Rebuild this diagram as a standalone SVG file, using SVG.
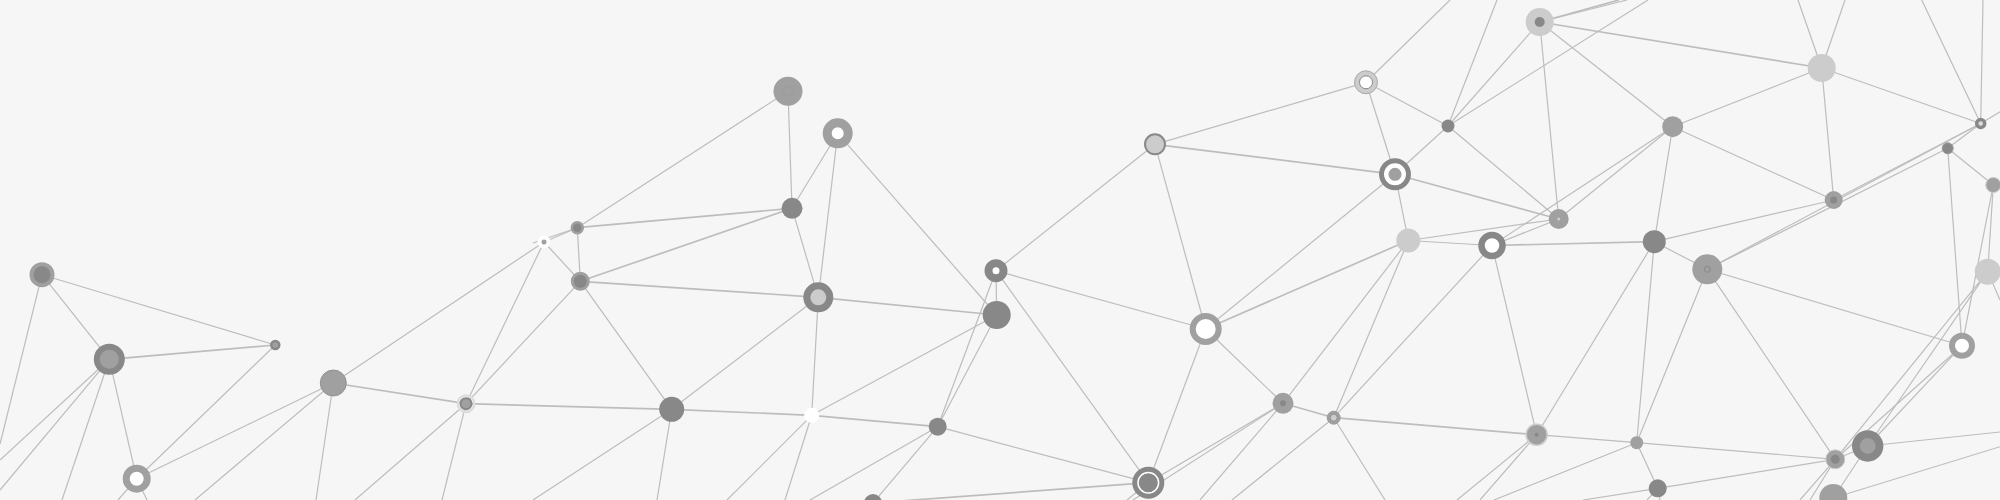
<svg xmlns="http://www.w3.org/2000/svg" width="2000" height="500" viewBox="0 0 2000 500">
<style>
.e line{stroke:#bdbdbd;stroke-width:1.2;fill:none}
.e line.t{stroke-width:1.7}
.f88{fill:#888}
.fa0{fill:#a0a0a0}
.fcc{fill:#ccc}
.fw{fill:#fff}
</style>
<rect width="2000" height="500" fill="#f6f6f6"/>
<g id="connectors" class="e">
<line x1="42" y1="274.7" x2="109.3" y2="359.3"/>
<line x1="42" y1="274.7" x2="275.3" y2="345"/>
<line x1="42" y1="274.7" x2="0" y2="444"/>
<line class="t" x1="109.3" y1="359.3" x2="275.3" y2="345"/>
<line x1="109.3" y1="359.3" x2="136.7" y2="478.7"/>
<line x1="109.3" y1="359.3" x2="0" y2="460"/>
<line x1="109.3" y1="359.3" x2="0" y2="490"/>
<line x1="109.3" y1="359.3" x2="62" y2="500"/>
<line x1="275.3" y1="345" x2="136.7" y2="478.7"/>
<line x1="333.3" y1="383" x2="136.7" y2="478.7"/>
<line x1="333.3" y1="383" x2="544" y2="242"/>
<line class="t" x1="333.3" y1="383" x2="466" y2="403.7"/>
<line x1="333.3" y1="383" x2="195" y2="500"/>
<line x1="333.3" y1="383" x2="316" y2="500"/>
<line x1="466" y1="403.7" x2="544" y2="242"/>
<line x1="466" y1="403.7" x2="580.3" y2="281.3"/>
<line class="t" x1="466" y1="403.7" x2="671.7" y2="409.3"/>
<line x1="466" y1="403.7" x2="355" y2="500"/>
<line x1="466" y1="403.7" x2="442" y2="500"/>
<line x1="136.7" y1="478.7" x2="118" y2="500"/>
<line x1="136.7" y1="478.7" x2="147" y2="500"/>
<line x1="788" y1="91.3" x2="577.3" y2="227.7"/>
<line x1="788" y1="91.3" x2="792" y2="208.3"/>
<line x1="837.7" y1="133.3" x2="792" y2="208.3"/>
<line x1="837.7" y1="133.3" x2="818.3" y2="297.3"/>
<line x1="837.7" y1="133.3" x2="996.7" y2="315"/>
<line class="t" x1="792" y1="208.3" x2="577.3" y2="227.7"/>
<line class="t" x1="792" y1="208.3" x2="580.3" y2="281.3"/>
<line x1="792" y1="208.3" x2="818.3" y2="297.3"/>
<line x1="577.3" y1="227.7" x2="544" y2="242"/>
<line x1="577.3" y1="227.7" x2="533" y2="243"/>
<line x1="577.3" y1="227.7" x2="580.3" y2="281.3"/>
<line x1="544" y1="242" x2="580.3" y2="281.3"/>
<line class="t" x1="580.3" y1="281.3" x2="818.3" y2="297.3"/>
<line x1="580.3" y1="281.3" x2="671.7" y2="409.3"/>
<line x1="818.3" y1="297.3" x2="671.7" y2="409.3"/>
<line x1="818.3" y1="297.3" x2="811.7" y2="415.3"/>
<line class="t" x1="818.3" y1="297.3" x2="996.7" y2="315"/>
<line class="t" x1="671.7" y1="409.3" x2="811.7" y2="415.3"/>
<line x1="671.7" y1="409.3" x2="533" y2="500"/>
<line x1="671.7" y1="409.3" x2="657" y2="500"/>
<line x1="811.7" y1="415.3" x2="996.7" y2="315"/>
<line class="t" x1="811.7" y1="415.3" x2="937.7" y2="426.7"/>
<line x1="811.7" y1="415.3" x2="727" y2="500"/>
<line x1="811.7" y1="415.3" x2="785" y2="500"/>
<line x1="937.7" y1="426.7" x2="996.7" y2="315"/>
<line x1="937.7" y1="426.7" x2="996" y2="270.7"/>
<line x1="937.7" y1="426.7" x2="1148.3" y2="482.7"/>
<line x1="937.7" y1="426.7" x2="810" y2="500"/>
<line x1="937.7" y1="426.7" x2="873" y2="503"/>
<line x1="996.7" y1="315" x2="996" y2="270.7"/>
<line x1="996" y1="270.7" x2="1155" y2="144.3"/>
<line x1="996" y1="270.7" x2="1205.7" y2="329"/>
<line x1="996" y1="270.7" x2="1148.3" y2="482.7"/>
<line class="t" x1="873" y1="503" x2="1148.3" y2="482.7"/>
<line x1="1155" y1="144.3" x2="1366" y2="82.3"/>
<line class="t" x1="1155" y1="144.3" x2="1395" y2="174.3"/>
<line x1="1155" y1="144.3" x2="1205.7" y2="329"/>
<line x1="1366" y1="82.3" x2="1448" y2="126"/>
<line x1="1366" y1="82.3" x2="1395" y2="174.3"/>
<line x1="1366" y1="82.3" x2="1450" y2="0"/>
<line x1="1448" y1="126" x2="1395" y2="174.3"/>
<line x1="1448" y1="126" x2="1497" y2="0"/>
<line x1="1448" y1="126" x2="1539.7" y2="22"/>
<line x1="1448" y1="126" x2="1648" y2="0"/>
<line x1="1448" y1="126" x2="1558.7" y2="219"/>
<line x1="1395" y1="174.3" x2="1408.3" y2="240.5"/>
<line x1="1395" y1="174.3" x2="1205.7" y2="329"/>
<line class="t" x1="1395" y1="174.3" x2="1558.7" y2="219"/>
<line x1="1408.3" y1="240.5" x2="1492" y2="245.5"/>
<line class="t" x1="1408.3" y1="240.5" x2="1205.7" y2="329"/>
<line x1="1408.3" y1="240.5" x2="1283" y2="403.3"/>
<line x1="1408.3" y1="240.5" x2="1333.7" y2="417.7"/>
<line x1="1408.3" y1="240.5" x2="1558.7" y2="219"/>
<line x1="1492" y1="245.5" x2="1558.7" y2="219"/>
<line x1="1492" y1="245.5" x2="1672.7" y2="126.7"/>
<line class="t" x1="1492" y1="245.5" x2="1654.3" y2="241.7"/>
<line x1="1492" y1="245.5" x2="1333.7" y2="417.7"/>
<line x1="1492" y1="245.5" x2="1536.7" y2="434.7"/>
<line x1="1205.7" y1="329" x2="1283" y2="403.3"/>
<line x1="1205.7" y1="329" x2="1148.3" y2="482.7"/>
<line class="t" x1="1283" y1="403.3" x2="1333.7" y2="417.7"/>
<line x1="1283" y1="403.3" x2="1148.3" y2="482.7"/>
<line x1="1283" y1="403.3" x2="1133" y2="500"/>
<line x1="1283" y1="403.3" x2="1200" y2="500"/>
<line class="t" x1="1333.7" y1="417.7" x2="1536.7" y2="434.7"/>
<line x1="1333.7" y1="417.7" x2="1232" y2="500"/>
<line x1="1333.7" y1="417.7" x2="1385" y2="500"/>
<line x1="1148.3" y1="482.7" x2="1127" y2="500"/>
<line class="t" x1="1539.7" y1="22" x2="1821.7" y2="68"/>
<line x1="1539.7" y1="22" x2="1672.7" y2="126.7"/>
<line x1="1539.7" y1="22" x2="1558.7" y2="219"/>
<line class="t" x1="1539.7" y1="22" x2="1619" y2="0"/>
<line x1="1539.7" y1="22" x2="1627" y2="0"/>
<line x1="1821.7" y1="68" x2="1672.7" y2="126.7"/>
<line x1="1821.7" y1="68" x2="1833.7" y2="200"/>
<line x1="1821.7" y1="68" x2="1980.7" y2="123.5"/>
<line x1="1821.7" y1="68" x2="1798" y2="0"/>
<line x1="1821.7" y1="68" x2="1845" y2="0"/>
<line x1="1672.7" y1="126.7" x2="1558.7" y2="219"/>
<line x1="1672.7" y1="126.7" x2="1833.7" y2="200"/>
<line x1="1672.7" y1="126.7" x2="1654.3" y2="241.7"/>
<line x1="1980.7" y1="123.5" x2="1983" y2="0"/>
<line x1="1980.7" y1="123.5" x2="1921.7" y2="0"/>
<line x1="1980.7" y1="123.5" x2="2000" y2="111.7"/>
<line x1="1980.7" y1="123.5" x2="1833.7" y2="200"/>
<line x1="1980.7" y1="123.5" x2="1707.3" y2="269.3"/>
<line x1="1980.7" y1="123.5" x2="1947.7" y2="148.3"/>
<line x1="1947.7" y1="148.3" x2="1707.3" y2="269.3"/>
<line x1="1947.7" y1="148.3" x2="1993.3" y2="185"/>
<line x1="1947.7" y1="148.3" x2="1962" y2="345.7"/>
<line x1="1993.3" y1="185" x2="1962" y2="345.7"/>
<line x1="1993.3" y1="185" x2="1987.7" y2="271.7"/>
<line x1="1833.7" y1="200" x2="1654.3" y2="241.7"/>
<line x1="1654.3" y1="241.7" x2="1707.3" y2="269.3"/>
<line x1="1654.3" y1="241.7" x2="1536.7" y2="434.7"/>
<line x1="1654.3" y1="241.7" x2="1636.7" y2="442.7"/>
<line x1="1707.3" y1="269.3" x2="1962" y2="345.7"/>
<line x1="1707.3" y1="269.3" x2="1636.7" y2="442.7"/>
<line x1="1707.3" y1="269.3" x2="1835.3" y2="459.3"/>
<line x1="1962" y1="345.7" x2="1835.3" y2="459.3"/>
<line x1="1962" y1="345.7" x2="1867.7" y2="446"/>
<line x1="1987.7" y1="271.7" x2="1835.3" y2="459.3"/>
<line x1="1987.7" y1="271.7" x2="1867.7" y2="446"/>
<line x1="1987.7" y1="271.7" x2="2000" y2="300"/>
<line x1="1536.7" y1="434.7" x2="1636.7" y2="442.7"/>
<line x1="1536.7" y1="434.7" x2="1457" y2="500"/>
<line x1="1536.7" y1="434.7" x2="1480" y2="500"/>
<line x1="1636.7" y1="442.7" x2="1835.3" y2="459.3"/>
<line x1="1636.7" y1="442.7" x2="1657.7" y2="488.3"/>
<line x1="1636.7" y1="442.7" x2="1494" y2="500"/>
<line x1="1657.7" y1="488.3" x2="1835.3" y2="459.3"/>
<line x1="1657.7" y1="488.3" x2="1583" y2="500"/>
<line x1="1657.7" y1="488.3" x2="1647" y2="500"/>
<line x1="1657.7" y1="488.3" x2="1660" y2="500"/>
<line x1="1835.3" y1="459.3" x2="1867.7" y2="446"/>
<line x1="1835.3" y1="459.3" x2="1800" y2="500"/>
<line x1="1835.3" y1="459.3" x2="1810" y2="500"/>
<line x1="1867.7" y1="446" x2="1833.3" y2="498"/>
<line x1="1867.7" y1="446" x2="2000" y2="432"/>
<line x1="1833.3" y1="498" x2="2000" y2="446.7"/>
</g>
<g id="nA"><circle cx="42" cy="274.7" r="10.5" class="f88" stroke="#a0a0a0" stroke-width="4"/></g>
<g id="nB"><circle cx="109.3" cy="359.3" r="12.5" class="fa0" stroke="#888" stroke-width="6"/></g>
<g id="nC"><circle cx="275.3" cy="345" r="4" class="fa0" stroke="#888" stroke-width="2.5"/></g>
<g id="nD"><circle cx="333.3" cy="383" r="13" class="fa0" stroke="#929292" stroke-width="1"/></g>
<g id="nE"><circle cx="466" cy="403.7" r="8.3" fill="none" stroke="#ddd" stroke-width="2.4"/><circle cx="466" cy="403.7" r="5.5" class="fa0" stroke="#888" stroke-width="2"/></g>
<g id="nF"><circle cx="136.7" cy="478.7" r="10.5" class="fw" stroke="#a0a0a0" stroke-width="7"/></g>
<g id="nG"><circle cx="788" cy="91.3" r="14.5" class="fa0"/><circle cx="788" cy="91.3" r="5" fill="none" stroke="#999" stroke-width="0.8"/></g>
<g id="nH"><circle cx="837.7" cy="133.3" r="10.5" class="fw" stroke="#a0a0a0" stroke-width="9"/></g>
<g id="nI"><circle cx="792" cy="208.3" r="10.5" class="f88"/></g>
<g id="nJ"><circle cx="577.3" cy="227.7" r="5.5" class="f88" stroke="#a0a0a0" stroke-width="2.5"/></g>
<g id="nK"><circle cx="544" cy="242" r="6.5" class="fw"/><circle cx="544" cy="242" r="2.5" class="fa0"/></g>
<g id="nL"><circle cx="580.3" cy="281.3" r="8" class="f88" stroke="#a0a0a0" stroke-width="3"/></g>
<g id="nM"><circle cx="818.3" cy="297.3" r="11.5" class="fcc" stroke="#888" stroke-width="7"/></g>
<g id="nN"><circle cx="671.7" cy="409.3" r="12.5" class="f88"/></g>
<g id="nO"><circle cx="811.7" cy="415.3" r="7.5" class="fw"/></g>
<g id="nP"><circle cx="937.7" cy="426.7" r="9" class="f88"/></g>
<g id="nQ"><circle cx="996.7" cy="315" r="14" class="f88"/></g>
<g id="nR"><circle cx="996" cy="270.7" r="7.5" class="fw" stroke="#888" stroke-width="8"/></g>
<g id="nS"><circle cx="1155" cy="144.3" r="10" class="fcc" stroke="#888" stroke-width="2"/></g>
<g id="nT"><circle cx="1366" cy="82.3" r="11.5" class="fcc" stroke="#aaa" stroke-width="1"/><circle cx="1366" cy="82.3" r="6.5" class="fw" stroke="#888" stroke-width="1"/></g>
<g id="nU"><circle cx="1448" cy="126" r="6.5" class="f88"/></g>
<g id="nV"><circle cx="1395" cy="174.3" r="13.5" class="fw" stroke="#888" stroke-width="5"/><circle cx="1395" cy="174.3" r="6.5" class="fa0"/></g>
<g id="nW"><circle cx="1408.3" cy="240.5" r="12" class="fcc"/></g>
<g id="nX"><circle cx="1492" cy="245.5" r="10.5" class="fw" stroke="#888" stroke-width="6.5"/></g>
<g id="nY"><circle cx="1205.7" cy="329" r="13" class="fw" stroke="#a0a0a0" stroke-width="6"/></g>
<g id="nZ"><circle cx="1283" cy="403.3" r="10.5" class="fa0"/><circle cx="1283" cy="403.3" r="3" class="f88"/></g>
<g id="nAA"><circle cx="1333.7" cy="417.7" r="6.5" class="fa0" stroke="#999" stroke-width="1"/><circle cx="1333.7" cy="417.7" r="3.5" class="fcc" stroke="#888" stroke-width="0.8"/></g>
<g id="nAB"><circle cx="1148.3" cy="482.7" r="16" class="f88"/><circle cx="1148.3" cy="482.7" r="10.3" fill="none" stroke="#fff" stroke-width="1.5"/></g>
<g id="nAC"><circle cx="1539.7" cy="22" r="14" class="fcc"/><circle cx="1539.7" cy="22" r="5" class="f88"/></g>
<g id="nAD"><circle cx="1821.7" cy="68" r="14" class="fcc"/></g>
<g id="nAE"><circle cx="1672.7" cy="126.7" r="10.5" class="fa0"/></g>
<g id="nAF"><circle cx="1980.7" cy="123.5" r="4" fill="#ddd" stroke="#888" stroke-width="3.5"/></g>
<g id="nAG"><circle cx="1947.7" cy="148.3" r="5.5" class="f88" stroke="#999" stroke-width="1"/></g>
<g id="nAH"><circle cx="1993.3" cy="185" r="7.5" class="fa0" stroke="#ccc" stroke-width="1"/></g>
<g id="nAI"><circle cx="1558.7" cy="219" r="10" class="fa0"/><circle cx="1558.7" cy="219" r="1.5" class="fcc"/></g>
<g id="nAJ"><circle cx="1833.7" cy="200" r="9" class="fa0"/><circle cx="1833.7" cy="200" r="3.5" class="f88"/></g>
<g id="nAK"><circle cx="1654.3" cy="241.7" r="11.5" class="f88"/></g>
<g id="nAL"><circle cx="1707.3" cy="269.3" r="15" class="fa0"/><circle cx="1707.3" cy="269.3" r="3" fill="none" stroke="#888" stroke-width="1"/></g>
<g id="nAM"><circle cx="1962" cy="345.7" r="10" class="fw" stroke="#a0a0a0" stroke-width="6"/></g>
<g id="nAN"><circle cx="1987.7" cy="271.7" r="13" class="fcc"/></g>
<g id="nAO"><circle cx="1536.7" cy="434.7" r="10.5" class="fa0" stroke="#ccc" stroke-width="1.5"/><circle cx="1536.7" cy="434.7" r="2" class="f88"/></g>
<g id="nAP"><circle cx="1636.7" cy="442.7" r="6.5" class="fa0"/></g>
<g id="nAQ"><circle cx="1657.7" cy="488.3" r="9" class="f88"/></g>
<g id="nAR"><circle cx="1835.3" cy="459.3" r="9.5" class="fa0" stroke="#ccc" stroke-width="1"/><circle cx="1835.3" cy="459.3" r="4.5" class="f88"/></g>
<g id="nAS"><circle cx="1867.7" cy="446" r="11.8" class="fa0" stroke="#888" stroke-width="7.8"/></g>
<g id="nAT"><circle cx="1833.3" cy="498" r="14" class="fa0"/></g>
<g id="nBN"><circle cx="873" cy="503" r="9" class="f88"/></g>
</svg>
